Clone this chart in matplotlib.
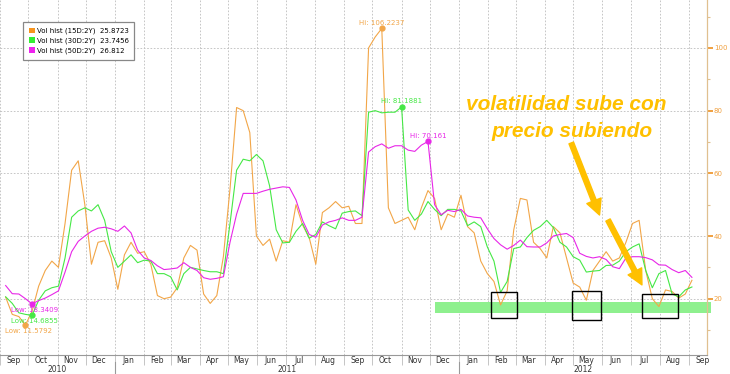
import matplotlib
matplotlib.use('Agg')
import matplotlib.pyplot as plt
import matplotlib.dates as mdates
import matplotlib.ticker as mticker
import pandas as pd
from matplotlib.patches import Patch, Rectangle

# ---------------- data ----------------
dates = pd.date_range('2010-09-07', periods=105, freq='7D')

vol15 = [20.5, 15, 14.3, 11.5792, 16, 24, 29, 32, 30, 44,
         61, 64, 50, 31, 38, 38.5, 33, 23, 34, 38,
         34.5, 35, 31, 21, 20, 20.5, 23.5, 33, 37, 35.5,
         21.5, 18.5, 21, 33.5, 55, 81, 80, 73, 40, 37,
         39, 32, 38.5, 38, 50, 43.5, 39.5, 31, 47.5, 49,
         51, 49, 49.5, 44, 44, 100, 103.5, 106.2237, 49, 44,
         45, 46, 42, 49, 54.5, 52, 42, 47, 46, 53,
         43, 41, 32, 28, 25.5, 18, 22.5, 42, 52, 51.5,
         38, 36, 33, 43, 41, 33, 25, 23.7, 19.5, 29,
         32, 35, 32, 33, 38, 44, 45, 29, 20, 17.5,
         22.8, 22.3, 20.2, 21.5, 25.8723]

vol30 = [20.6, 18.5, 15.5, 15, 14.6855, 19.5, 22.5, 23.5, 24, 33,
         46, 48, 49, 48, 50, 45, 35, 30, 32, 34,
         31.5, 32.3, 32, 28, 28, 27, 22.8, 28, 30, 29.5,
         29, 28.6, 28.6, 28, 44, 61, 64.5, 64, 66, 64,
         56, 42, 37.8, 38, 41.5, 44, 39.3, 40.5, 44.5, 43.3,
         42.3, 47.3, 47.8, 48, 46.5, 79.5, 80, 79.3, 79.5, 79.5,
         81.1881, 48.3, 45, 47, 51, 48.5, 46.5, 48.5, 48.5, 48,
         43.3, 44.5, 43, 36.5, 32, 22, 25.5, 36, 36.5, 39.5,
         41.8, 43, 45, 42.7, 38, 36.5, 33.4, 32.3, 28.5, 28.8,
         29, 30.6, 30.7, 32, 35, 36.5, 37.5, 29, 23.5, 28,
         29, 21.5, 20.6, 22.8, 23.7456]

vol50 = [24.2, 21.6, 21.5, 20, 18.3409, 19.4, 20.2, 21.3, 22.5, 28.5,
         35, 38.3, 40, 41.5, 42.5, 42.8, 42.3, 41.5, 43.2, 41,
         35.5, 33, 32.2, 30.5, 29.3, 29.5, 29.8, 31.5, 30, 29,
         26.7, 26.2, 26.5, 27, 38, 47, 53.6, 53.6, 53.6, 54.3,
         54.9, 55.3, 55.7, 55.5, 51.5, 45, 40.5, 39.6, 43.5, 44.5,
         45, 45.8, 45, 45, 46, 66.8, 68.5, 69.4, 68, 68.8,
         68.8, 67.4, 67, 69, 70.161, 50, 46.8, 48.2, 47.8, 48.5,
         46.4, 46, 45.8, 42.3, 39.2, 37.2, 35.8, 37, 38.7, 36.6,
         36.5, 36.5, 37.8, 40, 40.5, 40.8, 39.5, 34.5, 33.5, 33,
         33.4, 32.5, 30.2, 29.6, 33, 33.4, 33.4, 33.1, 32.4, 30.8,
         30.7, 29.3, 28.3, 29, 26.812]

series_names = ['Vol hist (15D:2Y)', 'Vol hist (30D:2Y)', 'Vol hist (50D:2Y)']
last_values = ['25.8723', '23.7456', '26.812']
hi_labels = ['106.2237', '81.1881', '70.161']
low_labels = ['11.5792', '14.6855', '18.3409']
y_ticks = [20, 40, 60, 80, 100]
y_minor = [10, 30, 50, 70, 90, 110]
years = [2010, 2011, 2012]
box_ranges = [('2012-02-04', '2012-03-02', 13.75, 22.0),
              ('2012-04-30', '2012-05-31', 13.1, 22.55),
              ('2012-07-13', '2012-08-20', 13.75, 21.4)]
band_range = ('2011-12-06', '2012-09-24', 15.3, 19.0)
note_lines = ['volatilidad sube con', 'precio subiendo']
note_pos = [('2012-04-24', 82.1), ('2012-04-30', 73.5)]
arrows = [(('2012-04-29', 69.7), ('2012-05-29', 46.7)),
          (('2012-06-07', 45.1), ('2012-07-13', 24.4))]

# ---------------- style ----------------
line_colors = ['#f2a648', '#45e845', '#e826e8']
legend_colors = ['#f7941d', '#33ee33', '#ee22ee']
text_dark = '#333333'
orange_lbl = '#f0a040'
note_color = '#FFC000'


def dn(d):
    return mdates.date2num(pd.Timestamp(d))


fig = plt.figure(figsize=(7.3, 3.74), dpi=100)
ax = fig.add_axes([0, 1 - 355 / 374, 707 / 730, 355 / 374])

x_left = pd.Timestamp('2010-09-01')
x_right = pd.Timestamp('2012-09-20')

all_series = [vol15, vol30, vol50]
for s, c in zip(all_series, line_colors):
    ax.plot(dates, s, color=c, lw=0.8, zorder=3)
ax.set_xlim(x_left, x_right)
ax.set_ylim(2.04, 115.3)

# hi / low markers
for s, c, hl, ll in zip(all_series, line_colors, hi_labels, low_labels):
    imax = max(range(len(s)), key=lambda i: s[i])
    imin = min(range(len(s)), key=lambda i: s[i])
    ax.plot([dates[imax]], [s[imax]], 'o', color=c, ms=3.5, zorder=4)
    ax.plot([dates[imin]], [s[imin]], 'o', color=c, ms=3.5, zorder=4)
    ax.annotate('Hi: ' + hl, (dn(dates[imax]), s[imax]), xytext=(0, 2),
                textcoords='offset points', ha='center', va='bottom',
                fontsize=5, color=c, zorder=5)
    ax.annotate('Low: ' + ll, (dn(dates[imin]), s[imin]), xytext=(2, -2),
                textcoords='offset points', ha='center', va='top',
                fontsize=5, color=c, zorder=5)

# green band
b0, b1, by0, by1 = band_range
ax.add_patch(Rectangle((dn(b0), by0), dn(b1) - dn(b0), by1 - by0,
                       facecolor='#8ef08e', edgecolor='none', zorder=2,
                       clip_on=False))

# black boxes
for d0, d1, y0, y1 in box_ranges:
    ax.add_patch(Rectangle((dn(d0), y0), dn(d1) - dn(d0), y1 - y0,
                           facecolor='none', edgecolor='black', lw=1.0,
                           zorder=6))

# note text
for txt, (d, v) in zip(note_lines, note_pos):
    ax.text(dn(d), v, txt, ha='center', va='center',
            fontsize=15, fontweight='bold', fontstyle='italic',
            family='Liberation Sans', color=note_color, zorder=7)

for (s0, s1) in arrows:
    ax.annotate('', xy=(dn(s1[0]), s1[1]), xytext=(dn(s0[0]), s0[1]),
                arrowprops=dict(arrowstyle='simple,head_width=1.1,head_length=1.1,tail_width=0.35',
                                color=note_color, mutation_scale=10,
                                shrinkA=0, shrinkB=0), zorder=7)

# axes styling
for sp in ['left', 'top']:
    ax.spines[sp].set_visible(False)
ax.spines['bottom'].set_color('#999999')
ax.spines['bottom'].set_linewidth(0.8)
ax.spines['right'].set_color('#e0c090')
ax.spines['right'].set_linewidth(0.9)

ax.yaxis.tick_right()
ax.yaxis.set_major_locator(mticker.FixedLocator(y_ticks))
ax.yaxis.set_minor_locator(mticker.FixedLocator(y_minor))
ax.tick_params(axis='y', which='major', colors=orange_lbl, labelsize=5,
               length=4, width=1.4, pad=1)
ax.tick_params(axis='y', which='minor', colors='#e0c090', length=2, width=0.8)

ax.xaxis.set_major_locator(mdates.MonthLocator())
ax.xaxis.set_major_formatter(mticker.NullFormatter())
ax.xaxis.set_minor_locator(mdates.MonthLocator(bymonthday=15))
ax.xaxis.set_minor_formatter(mdates.DateFormatter('%b'))
ax.tick_params(axis='x', which='major', length=7, width=0.6, color='#bbbbbb')
ax.tick_params(axis='x', which='minor', length=0, labelsize=5.5,
               labelcolor=text_dark, pad=1)

ax.grid(True, which='major', axis='both', linestyle=(0, (2, 2)),
        color='#bdbdbd', lw=0.6, zorder=0)

# year labels and separators
xf = ax.get_xaxis_transform()
for yr in years:
    start = max(pd.Timestamp(f'{yr}-01-01'), x_left)
    end = min(pd.Timestamp(f'{yr + 1}-01-01'), x_right)
    mid = start + (end - start) / 2
    ax.annotate(str(yr), (dn(mid), 0), xycoords=xf, xytext=(0, -10.3),
                textcoords='offset points', ha='center', va='center',
                fontsize=5.5, color=text_dark, annotation_clip=False)
    if yr > years[0]:
        jan = dn(f'{yr}-01-01')
        ax.plot([jan, jan], [-0.02, -0.05], transform=xf, color='#999999',
                lw=0.8, clip_on=False)

# legend
handles = [Patch(facecolor=c, edgecolor='none', label=f'{n}  {v}')
           for c, n, v in zip(legend_colors, series_names, last_values)]
leg = ax.legend(handles=handles, loc='upper left',
                bbox_to_anchor=(23 / 707, 1 - 22 / 355), fontsize=5,
                frameon=True, fancybox=False, edgecolor='#888888',
                framealpha=1, borderpad=0.8, handlelength=0.9,
                handleheight=0.9, handletextpad=0.3, labelspacing=0.45,
                borderaxespad=0)
leg.get_frame().set_linewidth(0.9)
leg.set_zorder(8)

fig.savefig('out.png', dpi=100)
